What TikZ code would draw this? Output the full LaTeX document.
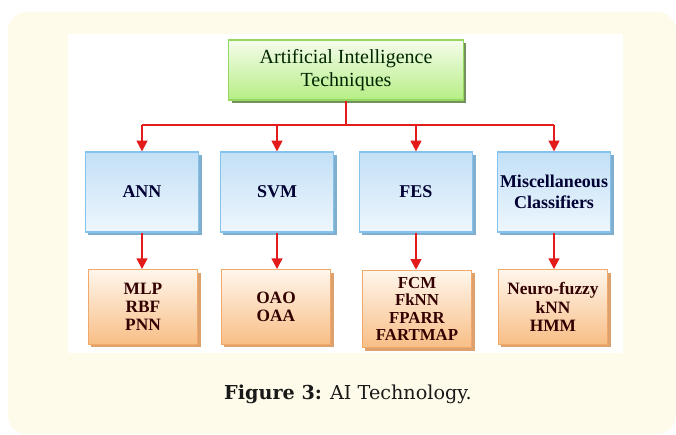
\documentclass[tikz,border=0pt]{standalone}
\usepackage{fontspec}
\setmainfont{Liberation Serif}
\newfontfamily\capfont{DejaVu Serif}
\usetikzlibrary{arrows.meta,shadows}

\definecolor{cream}{HTML}{FFFBEA}
\definecolor{linkred}{HTML}{E41B1B}
\definecolor{grnTop}{HTML}{F5FDEB}
\definecolor{grnBot}{HTML}{B6EE85}
\definecolor{grnLine}{HTML}{96D760}
\definecolor{bluTop}{HTML}{C3E0F6}
\definecolor{bluBot}{HTML}{EEF6FD}
\definecolor{bluLine}{HTML}{86C3EC}
\definecolor{orgTop}{HTML}{FFF6EC}
\definecolor{orgBot}{HTML}{F8BE86}
\definecolor{orgLine}{HTML}{F2A868}

\tikzset{
  box/.style={rectangle, draw, line width=0.9pt, align=center, inner sep=0pt},
  rootbox/.style={box, draw=grnLine, top color=grnTop, bottom color=grnBot,
    minimum width=176pt, minimum height=45pt, font=\fontsize{15}{16.8}\selectfont,
    text=black!85!green,
    drop shadow={shadow xshift=2.2pt, shadow yshift=-2.2pt, fill=black!45!grnLine, opacity=0.8}},
  catbox/.style={box, draw=bluLine, top color=bluTop, bottom color=bluBot,
    minimum width=85pt, minimum height=60pt, font=\bfseries\fontsize{13.5}{16}\selectfont,
    text=black!80!blue,
    drop shadow={shadow xshift=2.2pt, shadow yshift=-2.2pt, fill=bluLine!85!black, opacity=0.9}},
  leafbox/.style={box, draw=orgLine, top color=orgTop, bottom color=orgBot,
    minimum width=82pt, minimum height=56pt, font=\bfseries\fontsize{13}{13.6}\selectfont,
    text=black!80!red,
    drop shadow={shadow xshift=2.2pt, shadow yshift=-2.2pt, fill=orgLine!90!black, opacity=0.9}},
  link/.style={draw=linkred, line width=1.5pt},
  linkarrow/.style={link, -{Triangle[width=8pt,length=8pt]}},
}

\begin{document}
\begin{tikzpicture}[x=0.75pt, y=-0.75pt]
  \useasboundingbox (0,0) rectangle (676,435);
  % page and panel
  \fill[white] (0,0) rectangle (676,435);
  \fill[cream, rounded corners=14pt] (8,12) rectangle (676,434);
  \fill[white] (68,34) rectangle (623,353);

  % nodes
  \node[rootbox] (root) at (346,70) {Artificial Intelligence\\Techniques};

  \node[catbox] (ann)  at (142,192) {ANN};
  \node[catbox] (svm)  at (277,192) {SVM};
  \node[catbox] (fes)  at (416,192) {FES};
  \node[catbox] (misc) at (554,192) {Miscellaneous\\Classifiers};

  \node[leafbox] (l1) at (143,307) {MLP\\RBF\\PNN};
  \node[leafbox] (l2) at (276,307) {OAO\\OAA};
  \node[leafbox, minimum height=58pt, font=\bfseries\fontsize{12.6}{13.1}\selectfont] (l3) at (417,309) {FCM\\FkNN\\FPARR\\FARTMAP};
  \node[leafbox] (l4) at (553,307) {Neuro-fuzzy\\kNN\\HMM};

  % bus
  \coordinate (bus) at (346,125);
  \draw[link] (root.south) -- (bus);
  \draw[link] (ann.north |- bus) -- (misc.north |- bus);
  \foreach \n in {ann,svm,fes,misc}
    \draw[linkarrow] (\n.north |- bus) -- (\n.north);
  \draw[linkarrow] (ann.south) -- (ann.south |- l1.north);
  \draw[linkarrow] (svm.south) -- (svm.south |- l2.north);
  \draw[linkarrow] (fes.south) -- (fes.south |- l3.north);
  \draw[linkarrow] (misc.south) -- (misc.south |- l4.north);

  % caption
  \node[font=\capfont\fontsize{14.4}{17}\selectfont, text=black!90] (cap) at (348,394)
    {\textbf{Figure 3:} AI Technology.};
\end{tikzpicture}
\end{document}
